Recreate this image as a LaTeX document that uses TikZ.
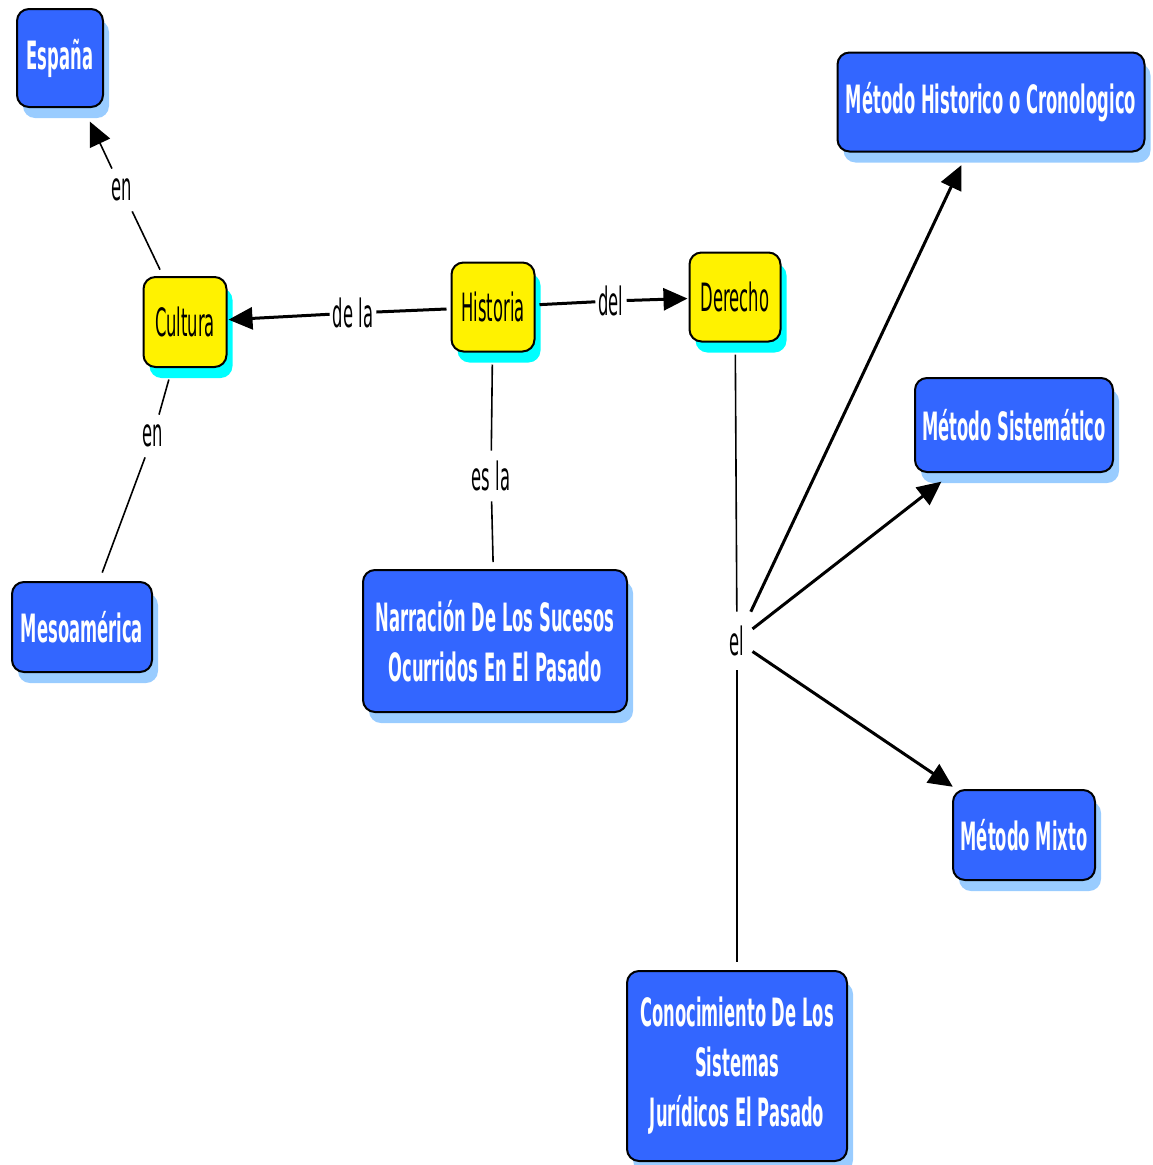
\documentclass[tikz,border=0pt]{standalone}
\usepackage{fontspec}
\newfontfamily\cfont[FakeStretch=0.42]{DejaVu Sans}
\usetikzlibrary{arrows.meta,shadows}
\definecolor{cblue}{RGB}{51,102,255}
\definecolor{cshadow}{RGB}{153,204,255}
\definecolor{yshadow}{RGB}{0,255,255}
\begin{document}
\begin{tikzpicture}[x=1pt,y=-1pt,
  concept/.style={rounded corners=12pt, draw=black, line width=2pt, inner sep=0pt, align=center},
  bluebox/.style={concept, fill=cblue, text=white,
    font=\cfont\bfseries\fontsize{39}{50}\selectfont,
    drop shadow={shadow xshift=6pt, shadow yshift=-11pt, fill=cshadow, opacity=1}},
  yellowbox/.style={concept, fill=yellow, text=black,
    font=\cfont\fontsize{39}{50}\selectfont,
    drop shadow={shadow xshift=6pt, shadow yshift=-11pt, fill=yshadow, opacity=1}},
  linkph/.style={font=\cfont\fontsize{39}{50}\selectfont, inner xsep=3pt, inner ysep=10pt, text=black},
  thick line/.style={line width=3pt, draw=black},
  thin line/.style={line width=1.6pt, draw=black},
  arrowed/.style={-{Triangle[length=24pt,width=22pt]}}
]
\path[use as bounding box] (0,0) rectangle (1152,1165);

% concepts
\node[bluebox, minimum width=86pt, minimum height=98pt] (espana) at (60,58) {España};
\node[yellowbox, minimum width=83pt, minimum height=90pt] (cultura) at (185,322) {Cultura};
\node[yellowbox, minimum width=83pt, minimum height=89pt] (historia) at (493,307) {Historia};
\node[yellowbox, minimum width=91pt, minimum height=89pt] (derecho) at (735,297) {Derecho};
\node[bluebox, minimum width=140pt, minimum height=90pt] (meso) at (82,627) {Mesoamérica};
\node[bluebox, minimum width=264pt, minimum height=142pt] (narr) at (495,641) {Narración De Los Sucesos\\Ocurridos En El Pasado};
\node[bluebox, minimum width=307pt, minimum height=99pt] (mhist) at (991,102) {Método Historico o Cronologico};
\node[bluebox, minimum width=198pt, minimum height=94pt] (msist) at (1014,425) {Método Sistemático};
\node[bluebox, minimum width=142pt, minimum height=90pt] (mmixto) at (1024,835) {Método Mixto};
\node[bluebox, minimum width=220pt, minimum height=190pt] (conoc) at (737,1066) {Conocimiento De Los\\Sistemas\\Jurídicos El Pasado};

% linking phrases
\node[linkph] (en1) at (122,190) {en};
\node[linkph] (en2) at (153,436) {en};
\node[linkph] (dela) at (353,313) {de la};
\node[linkph] (del) at (611,301) {del};
\node[linkph] (esla) at (491,476) {es la};
\node[linkph, inner xsep=8pt, inner ysep=14pt] (el) at (737,641) {el};

% connectors
\draw[thin line, shorten <=7pt] (cultura) -- (en1);
\draw[thin line, arrowed, shorten >=15pt] (en1) -- (espana);
\draw[thin line, shorten <=12pt] (cultura) -- (en2);
\draw[thin line, shorten >=9pt] (en2) -- (meso);

\draw[thick line, shorten <=4pt] (historia) -- (dela);
\draw[thick line, arrowed, shorten >=1pt] (dela) -- (cultura);
\draw[thick line, shorten <=4pt] (historia) -- (del);
\draw[thick line, arrowed, shorten >=1pt] (del) -- (derecho);

\draw[thin line, shorten <=12pt] (historia) -- (esla);
\draw[thin line, shorten >=7pt] (esla) -- (narr);

\draw[thin line, shorten <=12pt] (derecho) -- (el);
\draw[thick line, arrowed, shorten >=14pt] (el) -- (mhist);
\draw[thick line, arrowed, shorten >=14pt] (el) -- (msist);
\draw[thick line, arrowed, shorten >=4pt] (el) -- (mmixto);
\draw[thin line, shorten >=8pt] (el) -- (conoc);
\end{tikzpicture}
\end{document}
